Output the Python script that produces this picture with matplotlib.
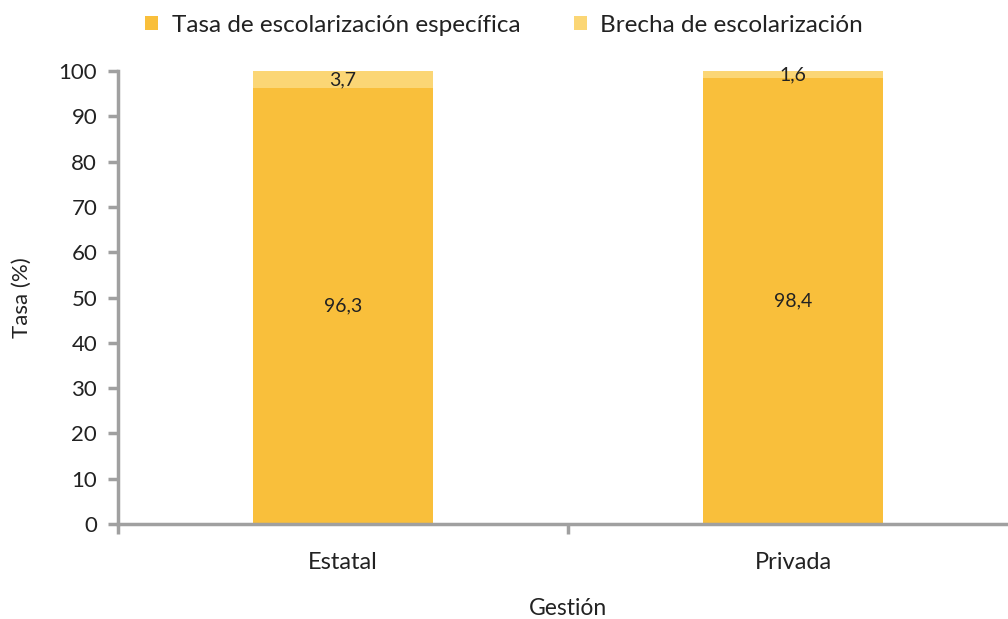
import matplotlib
matplotlib.use("Agg")
import matplotlib.pyplot as plt
import numpy as np

categories = ["Estatal", "Privada"]
tasa = [96.3, 98.4]
brecha = [3.7, 1.6]
series_names = ["Tasa de escolarización específica", "Brecha de escolarización"]

c_main = "#F9BF3B"
c_gap = "#FBD675"
axis_col = "#A0A0A0"
text_col = "#222222"

plt.rcParams['font.family'] = ['Lato', 'DejaVu Sans']

fig = plt.figure(figsize=(10.08, 6.19), dpi=100)
ax = fig.add_axes([118/1008, 1-524/619, 900/1008, 453/619])

x = np.arange(len(categories)) + 0.5
w = 0.4
b1 = ax.bar(x, tasa, w, color=c_main, label=series_names[0], zorder=2)
b2 = ax.bar(x, brecha, w, bottom=tasa, color=c_gap, label=series_names[1], zorder=2)

for xi, t, b in zip(x, tasa, brecha):
    ax.text(xi, t/2, f"{t:.1f}".replace(".", ","), ha="center", va="center", fontsize=14, color=text_col)
    ax.text(xi, t + b/2, f"{b:.1f}".replace(".", ","), ha="center", va="center", fontsize=14, color=text_col)

ax.set_xlim(0, 2)
ax.set_ylim(0, 100)
ax.set_yticks(np.arange(0, 101, 10))
ax.set_xticks([0, 1, 2], minor=False)
ax.set_xticklabels(["", "", ""])
ax.set_xticks(x, minor=True)
ax.set_xticklabels(categories, minor=True)
ax.tick_params(axis="x", which="minor", length=0, pad=20, labelsize=17, labelcolor=text_col)
ax.tick_params(axis="x", which="major", length=7, width=2.5, color=axis_col, direction="out")
ax.tick_params(axis="y", length=7, width=2.5, color=axis_col, labelsize=16, labelcolor=text_col, pad=8)

for s in ["top", "right"]:
    ax.spines[s].set_visible(False)
for s in ["left", "bottom"]:
    ax.spines[s].set_color(axis_col)
    ax.spines[s].set_linewidth(2.5)

ax.set_ylabel("Tasa (%)", fontsize=16, color=text_col, labelpad=19)
ax.set_xlabel("Gestión", fontsize=16.5, color=text_col)
ax.xaxis.set_label_coords(0.5, (524 - 598) / 453)

leg = fig.legend(handles=[b1, b2], labels=series_names, loc="center", bbox_to_anchor=(0.5, 1-25/619),
                 ncol=2, frameon=False, fontsize=17.5, handlelength=0.55, handleheight=0.55,
                 columnspacing=2.2, handletextpad=0.55)
for t in leg.get_texts():
    t.set_color(text_col)

fig.savefig("out.png", dpi=100)
